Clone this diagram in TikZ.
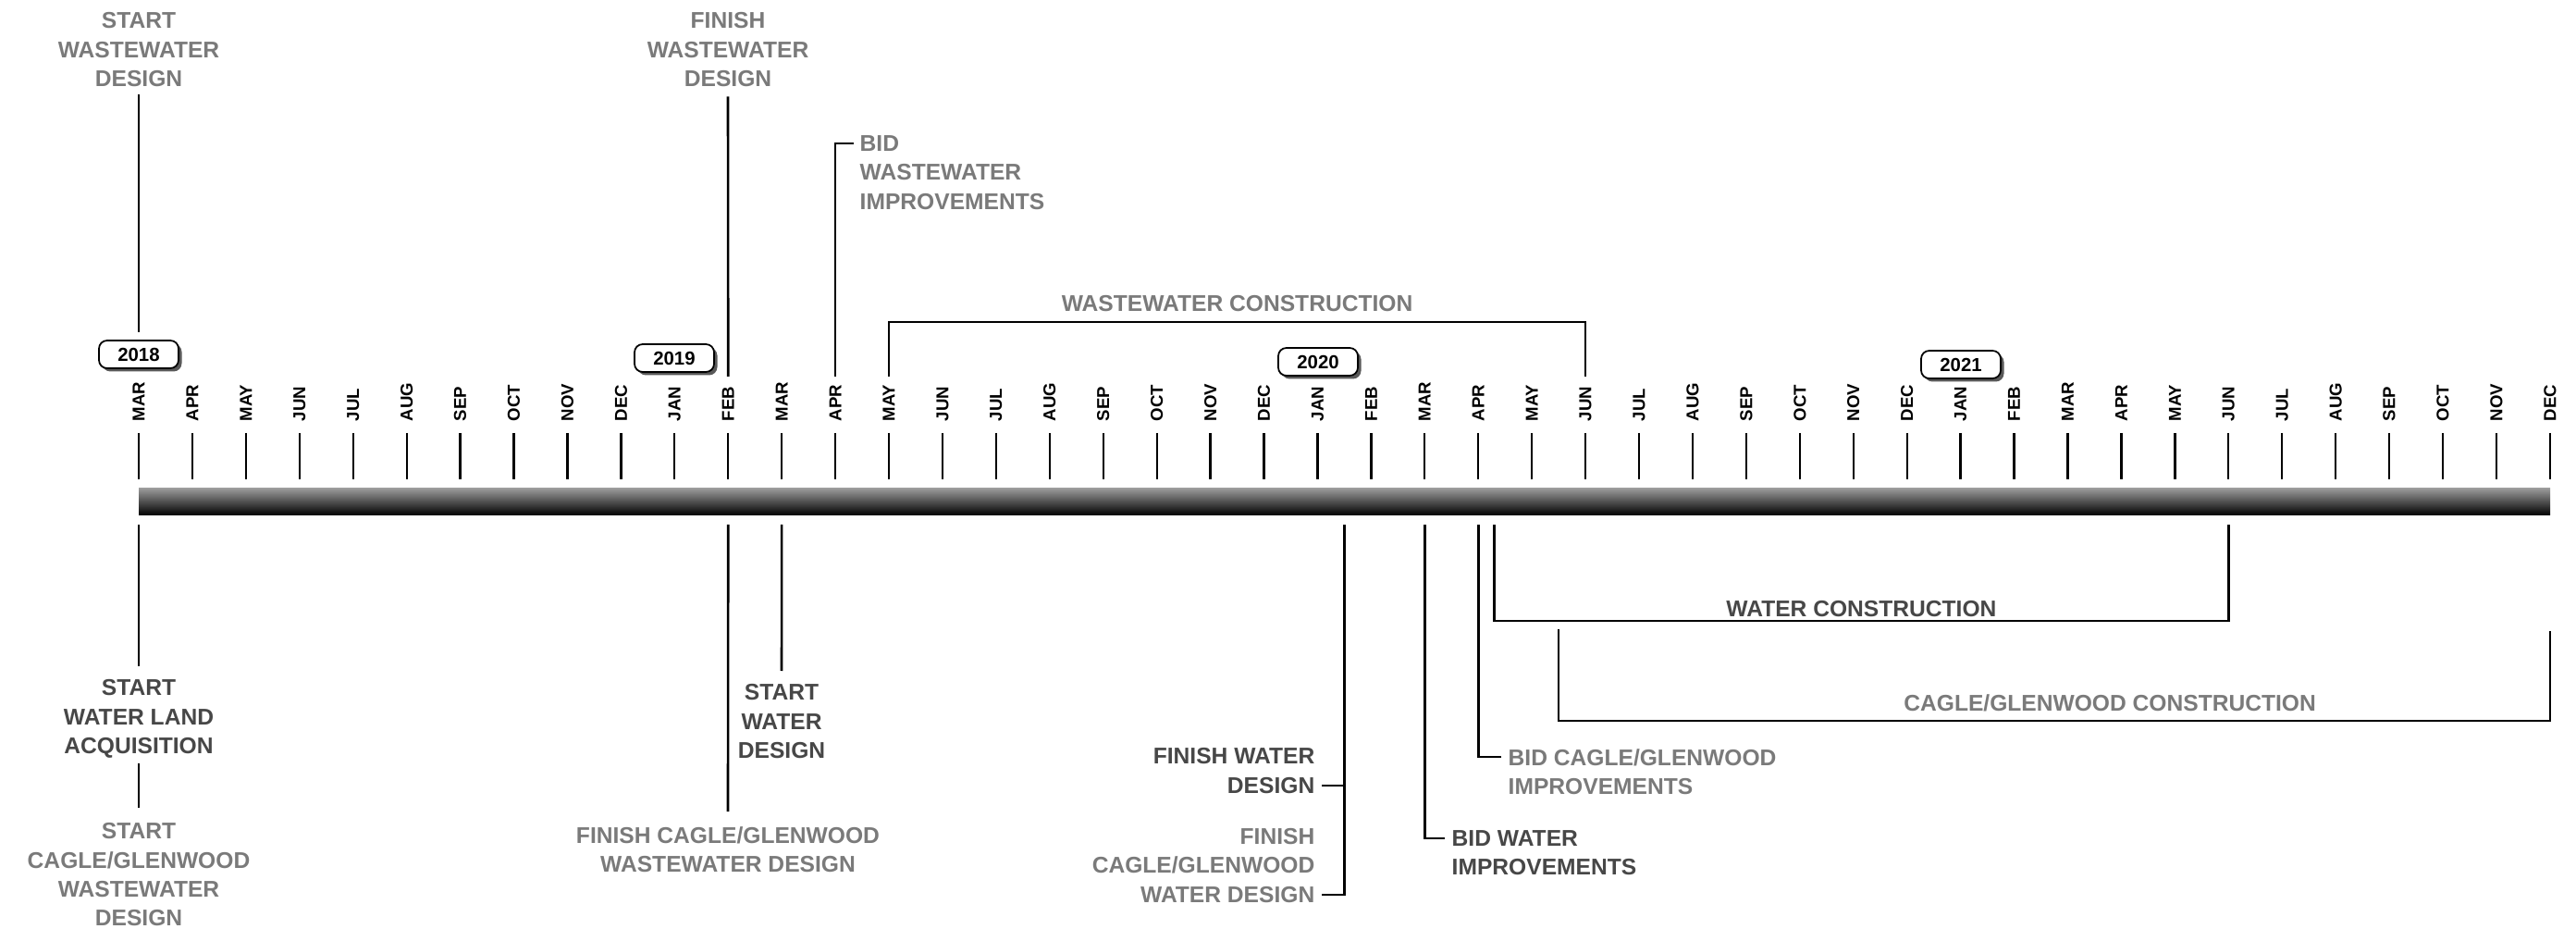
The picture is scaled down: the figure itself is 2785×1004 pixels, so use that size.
\documentclass[tikz,border=0pt]{standalone}
\usepackage{fontspec}
\setmainfont{Liberation Sans}
\usetikzlibrary{positioning,shadows}

\tikzset{
  lbl/.style={font=\bfseries\fontsize{7}{8.9}\selectfont, align=center, inner sep=0pt, text=black!52},
  lbldark/.style={lbl, text=black!72},
  month/.style={font=\bfseries\fontsize{5.3}{6}\selectfont, rotate=90, anchor=west, inner sep=0pt},
  tick/.style={line width=0.65pt},
  conn/.style={line width=0.75pt},
  yearbox/.style={draw, line width=0.5pt, rounded corners=2.5pt, fill=white,
    minimum width=8.6mm, minimum height=3.0mm, inner sep=0pt,
    font=\bfseries\fontsize{5.8}{6}\selectfont,
    drop shadow={shadow xshift=0.35mm, shadow yshift=-0.35mm, fill=black!65, opacity=1}},
}

\begin{document}
\begin{tikzpicture}[x=0.1mm, y=-0.1mm]
\useasboundingbox (0,0) rectangle (2785,1004);

% time bar
\shade[top color=black!40, middle color=black!90, bottom color=black] (150,528) rectangle (2757,557);

% months, ticks and anchor points above / below the bar
\foreach \mo [count=\i from 0] in {MAR,APR,MAY,JUN,JUL,AUG,SEP,OCT,NOV,DEC,JAN,FEB,
    MAR,APR,MAY,JUN,JUL,AUG,SEP,OCT,NOV,DEC,JAN,FEB,
    MAR,APR,MAY,JUN,JUL,AUG,SEP,OCT,NOV,DEC,JAN,FEB,
    MAR,APR,MAY,JUN,JUL,AUG,SEP,OCT,NOV,DEC} {
  \node[month] (mo\i) at (150+57.93*\i, 456) {\mo};
  \draw[tick] (150+57.93*\i, 468) -- (150+57.93*\i, 518);
  \coordinate (up\i) at (150+57.93*\i, 407);
  \coordinate (dn\i) at (150+57.93*\i, 567);
}

% years
\node[yearbox] (y2018) at (150,383) {2018};
\node[yearbox] (y2019) at (729,387) {2019};
\node[yearbox] (y2020) at (1425,391) {2020};
\node[yearbox] (y2021) at (2120,394) {2021};

% wastewater, above the bar
\node[lbl, anchor=north] (sww) at (150,13) {START\\WASTEWATER\\DESIGN};
\draw[conn, shorten <=0.8mm, shorten >=0.8mm] (sww) -- (y2018);

\node[lbl, anchor=north] (fww) at (787,13) {FINISH\\WASTEWATER\\DESIGN};
\draw[conn, shorten <=1mm] (fww) -- (up11);

\node[lbl, anchor=north west, align=left] (bww) at (929,146) {BID\\WASTEWATER\\IMPROVEMENTS};
\draw[conn] (bww.north west) ++(-6,9) -| (up13);

\draw[conn] (up14) -- ++(0,-59) -| node[lbl, pos=0.25, above=1mm] (wwc) {WASTEWATER CONSTRUCTION} (up27);

% water and cagle/glenwood, below the bar
\coordinate (dn22h) at (150+57.93*22.5, 567);
\coordinate (wcl) at (150+57.93*25.3, 567);
\coordinate (cgcl) at (150+57.93*26.5, 680);
\coordinate (cgcr) at (2757, 682);

\node[lbldark, anchor=north] (swla) at (150,734) {START\\WATER LAND\\ACQUISITION};
\draw[conn, shorten >=1.4mm] (dn0) -- (swla);

\node[lbl, anchor=north] (scgww) at (150,889) {START\\CAGLE/GLENWOOD\\WASTEWATER\\DESIGN};
\draw[conn, shorten <=0.5mm, shorten >=1.6mm] (swla) -- (scgww);

\node[lbl, anchor=north] (fcgww) at (787,893) {FINISH CAGLE/GLENWOOD\\WASTEWATER DESIGN};
\draw[conn, shorten >=1.6mm] (dn11) -- (fcgww);

\node[lbldark, anchor=north] (swd) at (845,739) {START\\WATER\\DESIGN};
\draw[conn, shorten >=1.4mm] (dn12) -- (swd);

\node[lbldark, anchor=south east, align=right] (fwd) at (1422,858) {FINISH WATER\\DESIGN};
\draw[conn] (fwd.south east) ++(7,-9) -| (dn22h);

\node[lbl, anchor=south east, align=right] (fcgwd) at (1422,976) {FINISH\\CAGLE/GLENWOOD\\WATER DESIGN};
\draw[conn] (fcgwd.south east) ++(7,-9) -| (dn22h);

\node[lbldark, anchor=north west, align=left] (bwi) at (1569,897) {BID WATER\\IMPROVEMENTS};
\draw[conn] (bwi.north west) ++(-7,9) -| (dn24);

\node[lbl, anchor=north west, align=left] (bcgi) at (1630,809) {BID CAGLE/GLENWOOD\\IMPROVEMENTS};
\draw[conn] (bcgi.north west) ++(-7,9) -| (dn25);

\draw[conn] (wcl) -- ++(0,104) -| node[lbldark, pos=0.25, above=0.3mm] (wc) {WATER CONSTRUCTION} (dn39);

\draw[conn] (cgcl) -- ++(0,99) -| node[lbl, pos=0.278, above=0.9mm] (cgc) {CAGLE/GLENWOOD CONSTRUCTION} (cgcr);
\end{tikzpicture}
\end{document}
